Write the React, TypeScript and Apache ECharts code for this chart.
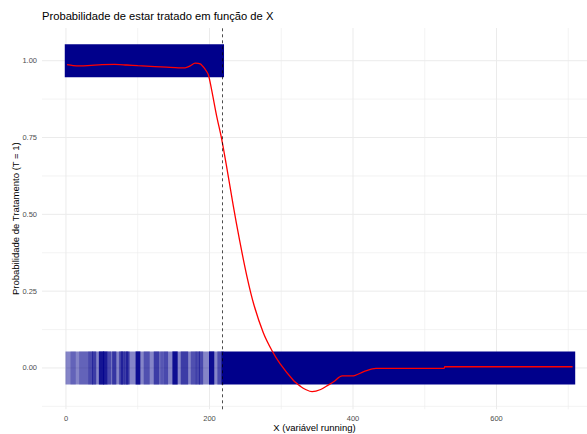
import React, { useEffect, useRef } from "react";
import * as echarts from "echarts";

const titleText = "Probabilidade de estar tratado em função de X";
const xAxisTitle = "X (variável running)";
const yAxisTitle = "Probabilidade de Tratamento (T = 1)";

const xTicks = [0, 200, 400, 600];
const xMinorGrid = [100, 300, 500, 700];
const yTicks = [0, 0.25, 0.5, 0.75, 1];
const yMinorGrid = [-0.125, 0.125, 0.375, 0.625, 0.875];

const cutoff = 218.4;
// point clouds: [xStart, xEnd] at a treatment level, jittered vertically
const treatedRange = [0, 218.6];
const treatedLevel = 1;
const controlDenseRange = [218.4, 708];
const controlSparseRange = [1, 218.4];
const controlLevel = 0;
const jitterHalf = 0.05;
const sparseBaseDensity = 0.48;

// denser vertical stripes in the sparse control cloud (x < cutoff)
const stripeStart = [8, 20, 32.5, 38, 47.5, 53.5, 59, 66, 75.5, 78, 82.5, 85, 98.7, 110, 124, 133, 138, 150, 161.6, 175.6, 182.5, 187, 201, 212.7];
const stripeEnd = [12, 29, 35.8, 40.5, 51.5, 56, 61.5, 68.5, 77.8, 80, 85, 87, 102, 115, 128.5, 134.5, 140.6, 154, 168.6, 180, 185, 189.5, 205, 216.5];
const stripeDensity = [0.25, 0.25, 0.45, 0.55, 0.85, 0.8, 0.45, 0.6, 0.45, 0.55, 0.45, 0.55, 0.9, 0.4, 0.55, 0.35, 0.45, 0.9, 0.55, 0.4, 0.45, 0.45, 0.9, 0.45];

// loess smooth
const smoothX = [1.5, 10, 20, 35, 50, 68, 85, 100, 124, 140, 157, 166, 173, 180, 187, 194, 198.3, 203, 210, 217, 225, 233, 242, 252, 262, 275, 287, 298.3, 316.8, 327, 334, 343, 355, 366, 373, 385, 399, 415, 432, 527, 528, 706];
const smoothY = [0.987, 0.984, 0.983, 0.985, 0.987, 0.988, 0.986, 0.984, 0.981, 0.979, 0.977, 0.977, 0.983, 0.992, 0.99, 0.972, 0.955, 0.905, 0.82, 0.745, 0.64, 0.53, 0.415, 0.3, 0.205, 0.115, 0.057, 0.014, -0.04, -0.06, -0.07, -0.077, -0.07, -0.055, -0.045, -0.026, -0.026, -0.012, -0.001, -0.001, 0.004, 0.004];

const FONT = "Liberation Sans, Arial, Helvetica, sans-serif";

export default function App() {
  const ref = useRef<HTMLDivElement>(null);
  useEffect(() => {
    if (!ref.current) return;
    const chart = echarts.init(ref.current, undefined, { renderer: "svg" });

    const cloudData: number[][] = [];
    cloudData.push([treatedRange[0], treatedRange[1], treatedLevel, 1]);
    cloudData.push([controlDenseRange[0], controlDenseRange[1], controlLevel, 1]);
    cloudData.push([controlSparseRange[0], controlSparseRange[1], controlLevel, sparseBaseDensity]);
    stripeStart.forEach((s, i) => {
      cloudData.push([s, stripeEnd[i], controlLevel, stripeDensity[i]]);
    });

    const gridData: number[][] = [];
    xTicks.forEach((v) => gridData.push([v, 0, 1]));
    xMinorGrid.forEach((v) => gridData.push([v, 0, 0]));
    yTicks.forEach((v) => gridData.push([v, 1, 1]));
    yMinorGrid.forEach((v) => gridData.push([v, 1, 0]));

    const option: any = {
      animation: false,
      backgroundColor: "#ffffff",
      textStyle: { fontFamily: FONT },
      title: {
        text: titleText,
        left: 42,
        top: 10.5,
        padding: 0,
        textStyle: { fontSize: 11.2, fontWeight: "normal", color: "#000", fontFamily: FONT },
      },
      grid: { left: 42, right: 0, top: 28, bottom: 24.7, containLabel: false, outerBoundsMode: "none" },
      xAxis: {
        type: "value",
        min: -33.4,
        max: 726.1,
        axisLine: { show: false },
        axisTick: { show: false },
        splitLine: { show: false },
        axisLabel: {
          customValues: xTicks,
          fontSize: 7.5,
          color: "#4D4D4D",
          margin: 5,
          fontFamily: FONT,
        },
        name: xAxisTitle,
        nameLocation: "middle",
        nameGap: 18.5,
        nameMoveOverlap: false,
        nameTextStyle: { fontSize: 9.5, color: "#000", fontFamily: FONT, verticalAlign: "middle" },
      },
      yAxis: {
        type: "value",
        min: -0.1345,
        max: 1.1065,
        axisLine: { show: false },
        axisTick: { show: false },
        splitLine: { show: false },
        axisLabel: {
          customValues: yTicks,
          formatter: (v: number) => v.toFixed(2),
          fontSize: 7.5,
          color: "#4D4D4D",
          margin: 5,
          fontFamily: FONT,
        },
        name: yAxisTitle,
        nameLocation: "middle",
        nameRotate: 90,
        nameGap: 27,
        nameMoveOverlap: false,
        nameTextStyle: { fontSize: 9.5, color: "#000", fontFamily: FONT, verticalAlign: "middle" },
      },
      series: [
        {
          type: "custom",
          name: "grid",
          silent: true,
          z: 0,
          data: gridData,
          renderItem: (params: any, api: any) => {
            const v = api.value(0);
            const isY = api.value(1) === 1;
            const major = api.value(2) === 1;
            const cs = params.coordSys;
            const style = { stroke: "#EBEBEB", lineWidth: major ? 1 : 0.6 };
            if (!isY) {
              const px = api.coord([v, 0])[0];
              return { type: "line", shape: { x1: px, y1: cs.y, x2: px, y2: cs.y + cs.height }, style };
            }
            const py = api.coord([0, v])[1];
            return { type: "line", shape: { x1: cs.x, y1: py, x2: cs.x + cs.width, y2: py }, style };
          },
        },
        {
          type: "custom",
          name: "points",
          silent: true,
          z: 2,
          data: cloudData,
          renderItem: (params: any, api: any) => {
            const x0 = api.value(0);
            const x1 = api.value(1);
            const yc = api.value(2);
            const op = api.value(3);
            const p0 = api.coord([x0, yc + jitterHalf]);
            const p1 = api.coord([x1, yc - jitterHalf]);
            const pad = 1.2;
            return {
              type: "rect",
              shape: { x: p0[0] - pad, y: p0[1] - pad, width: p1[0] - p0[0] + 2 * pad, height: p1[1] - p0[1] + 2 * pad },
              style: { fill: `rgba(0,0,139,${op})` },
            };
          },
        },
        {
          type: "line",
          name: "loess",
          z: 4,
          data: smoothX.map((x, i) => [x, smoothY[i]]),
          showSymbol: false,
          symbol: "none",
          smooth: 0.3,
          lineStyle: { color: "#FF0000", width: 1.3 },
          markLine: {
            silent: true,
            symbol: "none",
            label: { show: false },
            lineStyle: { color: "#000", type: [3, 3], width: 0.7 },
            data: [{ xAxis: cutoff }],
          },
        },
      ],
    };
    chart.setOption(option);
    return () => chart.dispose();
  }, []);
  return (
    <div
      ref={ref}
      style={{ position: "fixed", left: 0, top: 0, width: 587, height: 434, background: "#fff" }}
    />
  );
}
